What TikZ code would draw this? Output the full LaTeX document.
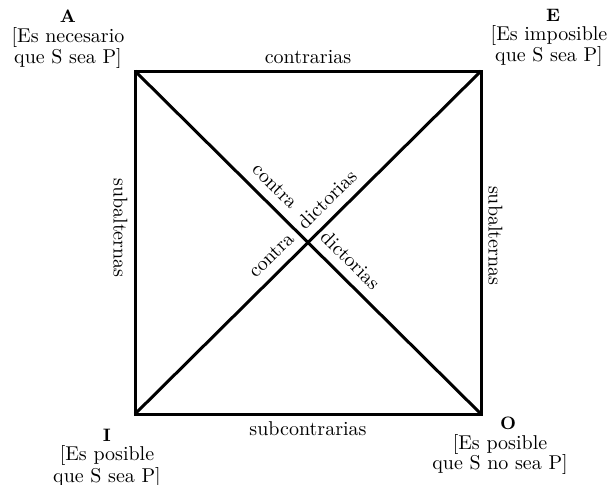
\documentclass[tikz,border=0pt]{standalone}
\usepackage{tikz}
\usetikzlibrary{positioning}

\begin{document}
\begin{tikzpicture}[x=0.5pt, y=-0.5pt, node distance=0pt,
  side/.style = {line width=1.5pt, line join=miter},
  lbl/.style = {font=\fontsize{10}{10}\selectfont, inner sep=3pt},
  diag/.style = {lbl, above, sloped, inner sep=4.5pt},
  corner/.style = {font=\fontsize{9}{9}\selectfont\bfseries, inner sep=1pt},
  claim/.style = {align=center, font=\fontsize{10}{10.5}\selectfont, inner sep=1pt}]
  \useasboundingbox (0,0) rectangle (613,484);
  % corners of the square
  \coordinate (tl) at (135,71);
  \coordinate (tr) at (481,71);
  \coordinate (br) at (481,414);
  \coordinate (bl) at (135,414);
  % corner propositions
  \node[corner] (A) at (68,16) {A};
  \node[claim] (a) [below=of A] {[Es necesario\\que S sea P]};
  \node[corner] (E) at (553,15) {E};
  \node[claim] (e) [below=of E, xshift=-2pt] {[Es imposible\\que S sea P]};
  \node[corner] (I) at (107,435) {I};
  \node[claim, font=\fontsize{10}{9}\selectfont] (i) [below=of I] {[Es posible\\que S sea P]};
  \node[corner] (O) at (508,423) {O};
  \node[claim, font=\fontsize{10}{10}\selectfont] (o) [below=of O, xshift=-4pt] {[Es posible\\que S no sea P]};
  % the square
  \draw[side] (tl) -- node[lbl, above] {contrarias} (tr)
    -- node[lbl, above, sloped, pos=0.48] {subalternas} (br)
    -- node[lbl, below] {subcontrarias} (bl)
    -- node[lbl, rotate=-90, anchor=north, pos=0.542] {subalternas} cycle;
  % the diagonals
  \draw[side] (tl) -- node[diag, pos=0.37] {contra}
    node[diag, pos=0.587] {dictorias} (br);
  \draw[side] (bl) -- node[diag, pos=0.428] {contra}
    node[diag, pos=0.59] {dictorias} (tr);
\end{tikzpicture}
\end{document}
